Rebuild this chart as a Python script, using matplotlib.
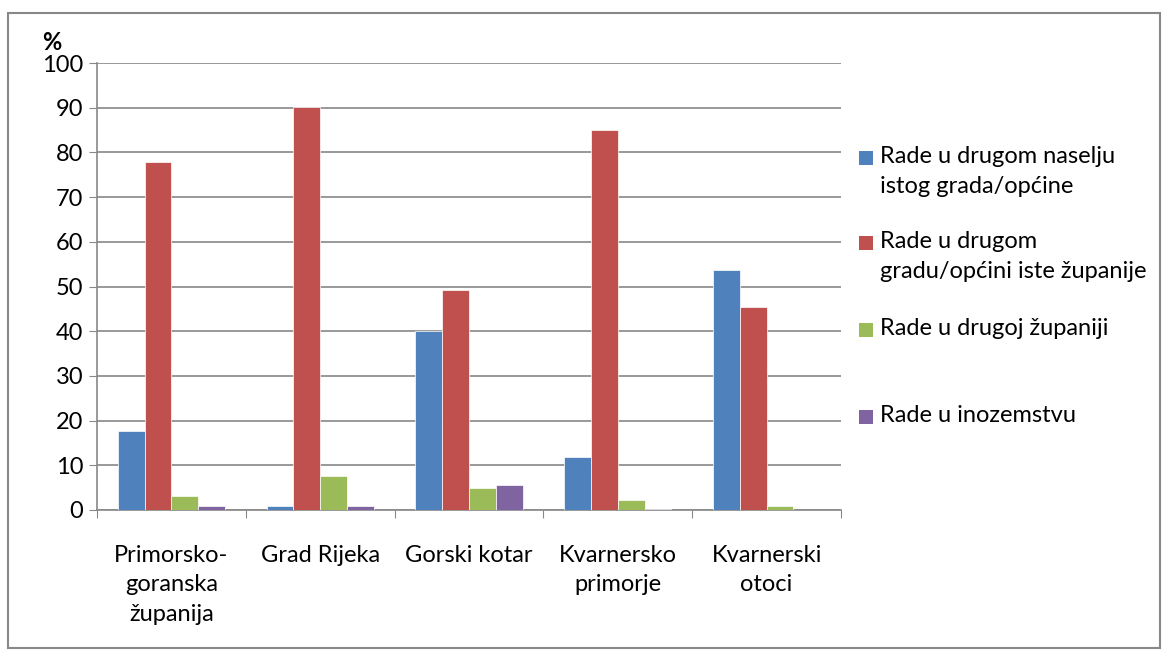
import matplotlib
matplotlib.use("Agg")
import matplotlib.pyplot as plt
import numpy as np
from matplotlib.patches import Rectangle

categories = ["Primorsko-\ngoranska\nžupanija", "Grad Rijeka", "Gorski kotar", "Kvarnersko\nprimorje", "Kvarnerski\notoci"]
series_names = ["Rade u drugom naselju\nistog grada/općine",
                "Rade u drugom\ngradu/općini iste županije",
                "Rade u drugoj županiji",
                "Rade u inozemstvu"]
s1 = [17.6, 0.9, 40.1, 11.9, 53.6]
s2 = [77.9, 90.2, 49.2, 85.0, 45.4]
s3 = [3.2, 7.6, 5.0, 2.2, 0.8]
s4 = [0.8, 0.8, 5.6, 0.2, 0.0]
colors = ["#4F81BD", "#C0504D", "#9BBB59", "#8064A2"]
yticks = list(range(0, 101, 10))

FS = 17
plt.rcParams['font.family'] = ['Lato', 'DejaVu Sans']
W, H = 1168, 657
fig = plt.figure(figsize=(W/100, H/100), dpi=100)
fig.patches.append(Rectangle((8/W, 1-648/H), 1152/W, 635/H, transform=fig.transFigure,
                             fill=False, edgecolor="#888888", linewidth=1.5))
ax = fig.add_axes([97/W, 1-510/H, (841-97)/W, (510-63)/H])

x = np.arange(len(categories))
w = 0.18
data = [s1, s2, s3, s4]
for i, (vals, c, name) in enumerate(zip(data, colors, series_names)):
    ax.bar(x + (i - 1.5) * w, vals, w, color=c, label=name, edgecolor="white", linewidth=0.5, zorder=3)

ax.set_xlim(-0.5, len(categories) - 0.5)
ax.set_ylim(0, 100)
ax.set_yticks(yticks)
ax.set_yticklabels([str(t) for t in yticks], fontsize=FS)
ax.yaxis.grid(True, color="#888888", linewidth=1.2, zorder=0)
ax.set_xticks(np.arange(-0.5, len(categories), 1))
ax.set_xticklabels([])
ax.set_xticks(x, minor=True)
ax.set_xticklabels(categories, minor=True, fontsize=FS, linespacing=1.5)
ax.tick_params(axis='x', which='minor', length=0, pad=25)
ax.tick_params(axis='x', which='major', length=6, color="#888888", direction='out')
ax.tick_params(axis='y', length=6, color="#888888", pad=4)
for s in ["top", "right"]:
    ax.spines[s].set_visible(False)
for s in ["left", "bottom"]:
    ax.spines[s].set_color("#888888")
    ax.spines[s].set_linewidth(1.2)
fig.text(52/W, 1-42/H, "%", fontsize=FS, fontweight='bold', ha='center', va='center')

# legend drawn manually (handle aligned with first text line, as in the reference)
leg_y = [158, 243, 330, 417]
for c, name, yy in zip(colors, series_names, leg_y):
    fig.patches.append(Rectangle((859/W, 1-(yy+7)/H), 14/W, 14/H, transform=fig.transFigure,
                                 facecolor=c, edgecolor='none'))
    fig.text(880/W, 1-(yy-12)/H, name, fontsize=FS, ha='left', va='top', linespacing=1.55)

fig.savefig("out.png", dpi=100)
